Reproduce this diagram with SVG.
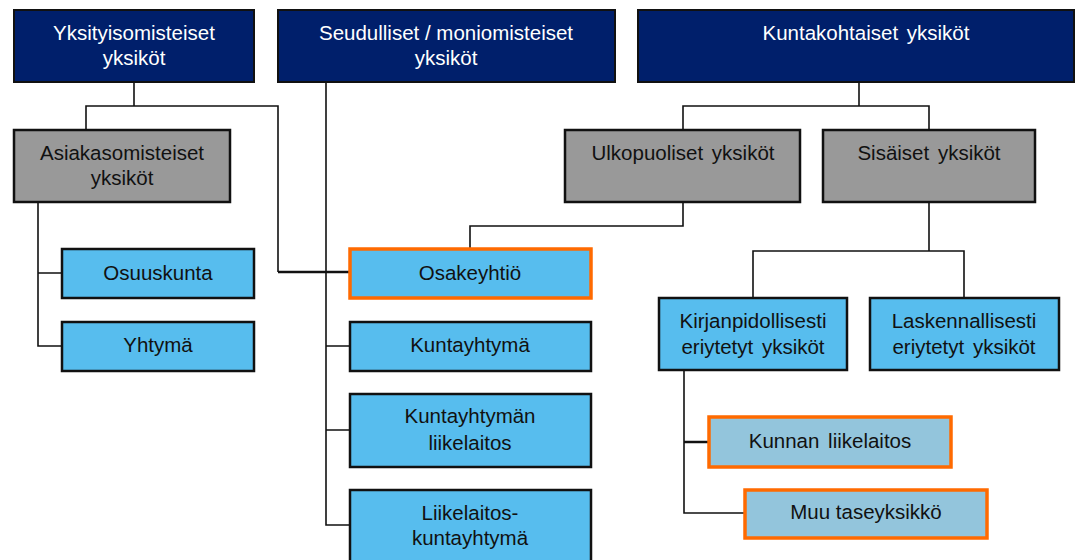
<svg xmlns="http://www.w3.org/2000/svg" width="1075" height="560" viewBox="0 0 1075 560">
<style>
text{font-family:"Liberation Sans",Arial,sans-serif;font-size:20.5px;text-anchor:middle;fill:#111}
.w{fill:#fff}
.navy{fill:#001f6b;stroke:#111;stroke-width:2}
.gray{fill:#999999;stroke:#111;stroke-width:2.5}
.blue{fill:#57bdee;stroke:#111;stroke-width:2.5}
.hl{fill:#57bdee;stroke:#ff6a00;stroke-width:3.5}
.pale{fill:#93c5dc;stroke:#ff6a00;stroke-width:3.5}
.ws{word-spacing:3px}
.c{fill:none;stroke:#111;stroke-width:1.6}
.ct{fill:none;stroke:#111;stroke-width:2.5}
</style>
<g id="connectors">
<path class="c" d="M134 82V106M86 130V106H278V272"/>
<path class="ct" d="M278 272H350"/>
<path class="c" d="M38 202V346H62M38 273H62"/>
<path class="c" d="M326 82V525H350M326 346H350M326 430H350"/>
<path class="c" d="M859 82V106M683 130V106H929V130"/>
<path class="c" d="M683 202V226H470V249"/>
<path class="c" d="M929 202V251M753 298V251H964V298"/>
<path class="c" d="M684 370V513H745"/>
<path class="ct" d="M684 442H709"/>
</g>
<g id="yksityisomisteiset"><rect class="navy" x="14" y="10" width="240" height="72"/><text class="w" x="134" y="40">Yksityisomisteiset</text><text class="w" x="134" y="65">yksiköt</text></g>
<g id="seudulliset"><rect class="navy" x="278" y="10" width="337" height="72"/><text class="w" x="446" y="40">Seudulliset / moniomisteiset</text><text class="w" x="446" y="65">yksiköt</text></g>
<g id="kuntakohtaiset"><rect class="navy" x="638" y="10" width="436" height="72"/><text class="w ws" x="866" y="40">Kuntakohtaiset yksiköt</text></g>
<g id="asiakasomisteiset"><rect class="gray" x="14" y="130" width="216" height="72"/><text x="122" y="160">Asiakasomisteiset</text><text x="122" y="185">yksiköt</text></g>
<g id="ulkopuoliset"><rect class="gray" x="565" y="130" width="235" height="72"/><text class="ws" x="683" y="160">Ulkopuoliset yksiköt</text></g>
<g id="sisaiset"><rect class="gray" x="823" y="130" width="212" height="72"/><text class="ws" x="929" y="160">Sisäiset yksiköt</text></g>
<g id="osuuskunta"><rect class="blue" x="62" y="249" width="192" height="49"/><text x="158" y="280">Osuuskunta</text></g>
<g id="yhtyma"><rect class="blue" x="62" y="322" width="192" height="49"/><text x="158" y="352">Yhtymä</text></g>
<g id="osakeyhtio"><rect class="hl" x="350" y="249" width="241" height="49"/><text x="470" y="280">Osakeyhtiö</text></g>
<g id="kuntayhtyma"><rect class="blue" x="350" y="322" width="241" height="49"/><text x="470" y="352">Kuntayhtymä</text></g>
<g id="kuntayhtyman-liikelaitos"><rect class="blue" x="350" y="394" width="241" height="73"/><text x="470" y="423">Kuntayhtymän</text><text x="470" y="450">liikelaitos</text></g>
<g id="liikelaitos-kuntayhtyma"><rect class="blue" x="350" y="490" width="241" height="74"/><text x="470" y="520">Liikelaitos-</text><text x="470" y="545">kuntayhtymä</text></g>
<g id="kirjanpidollisesti"><rect class="blue" x="659" y="298" width="188" height="72"/><text x="753" y="328">Kirjanpidollisesti</text><text class="ws" x="753" y="354">eriytetyt yksiköt</text></g>
<g id="laskennallisesti"><rect class="blue" x="870" y="298" width="189" height="72"/><text x="964" y="328">Laskennallisesti</text><text class="ws" x="964" y="354">eriytetyt yksiköt</text></g>
<g id="kunnan-liikelaitos"><rect class="pale" x="709" y="417" width="242" height="50"/><text class="ws" x="830" y="448">Kunnan liikelaitos</text></g>
<g id="muu-taseyksikko"><rect class="pale" x="745" y="490" width="242" height="48"/><text x="866" y="519">Muu taseyksikkö</text></g>
</svg>
